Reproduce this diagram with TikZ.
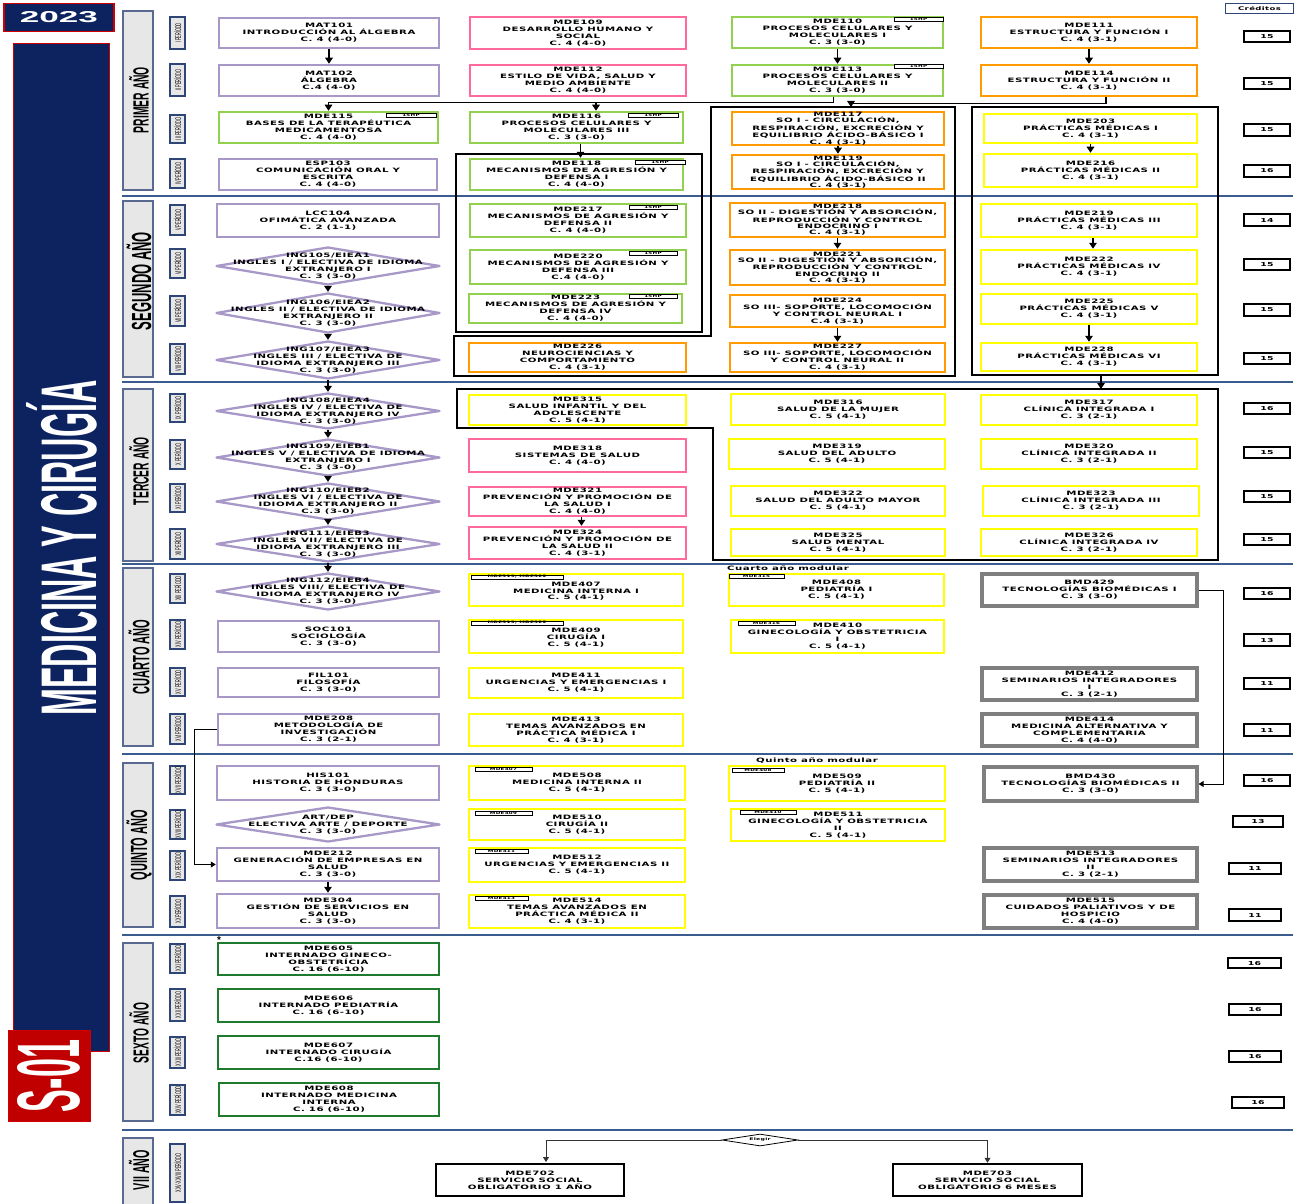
\documentclass[tikz,border=0pt]{standalone}
\usepackage{fontspec}
\usetikzlibrary{shapes.geometric,arrows.meta,calc}
\newfontfamily\bxf{DejaVu Sans}[FakeStretch=1.7,LetterSpace=8]
\newfontfamily\condf{Liberation Sans}[FakeStretch=0.47]
\newfontfamily\plainsans{Liberation Sans}
\definecolor{cPur}{HTML}{A898C8}
\definecolor{cPnk}{HTML}{FF6A9A}
\definecolor{cGrn}{HTML}{92D050}
\definecolor{cOrg}{HTML}{FF9A00}
\definecolor{cYel}{HTML}{FFFF00}
\definecolor{cGry}{HTML}{7F7F7F}
\definecolor{cDgr}{HTML}{1E7B2E}
\definecolor{cNavy}{HTML}{0C2360}
\definecolor{cRed}{HTML}{D00000}
\definecolor{cRedF}{HTML}{C00000}
\definecolor{cSep}{HTML}{3B5C8E}
\definecolor{cLG}{HTML}{E7E7E7}
\definecolor{cPerB}{HTML}{2E4577}
\newcommand{\bt}{\bxf\bfseries\fontsize{6}{6.9}\selectfont}
\newcommand{\btt}{\bxf\bfseries\fontsize{6}{6.3}\selectfont}
\newcommand{\cb}[7]{\node[#1, minimum width={(#4)-(#2)-2}, minimum height={(#5)-(#3)-2}] (#6) at ({((#2)+(#4))/2},{((#3)+(#5))/2}) {#7};}
\newcommand{\dm}[6]{\node[dshape, minimum width={(#3)-(#1)}, minimum height={(#4)-(#2)}] (#5) at ({((#1)+(#3))/2},{((#2)+(#4))/2}) {};
\node[dtxt] (#5t) at (#5) {#6};}
\tikzset{
  basebox/.style={rectangle, inner sep=0pt, align=center, font=\bt, text=black, fill=white},
  pur/.style={basebox, draw=cPur, line width=2.5pt},
  pnk/.style={basebox, draw=cPnk, line width=2.5pt},
  grn/.style={basebox, draw=cGrn, line width=2.5pt},
  org/.style={basebox, draw=cOrg, line width=2.5pt},
  yel/.style={basebox, draw=cYel, line width=2.5pt},
  gry/.style={basebox, draw=cGry, line width=3.2pt},
  dgr/.style={basebox, draw=cDgr, line width=2.5pt},
  blk/.style={basebox, draw=black, line width=2.5pt},
  tightf/.style={font=\btt},
  dshape/.style={diamond, draw=cPur, line width=2.3pt, line join=round, fill=white, inner sep=0pt},
  dtxt/.style={inner sep=0pt, align=center, font=\bt},
  tagbox/.style={rectangle, draw=black, fill=white, line width=0.7pt, inner sep=0pt, font=\bxf\bfseries\fontsize{3.3}{3.5}\selectfont},
  cred/.style={rectangle, draw=black, line width=1.1pt, fill=white, inner sep=0pt, font=\bxf\bfseries\fontsize{5.5}{6}\selectfont},
  perbox/.style={rectangle, draw=cPerB, fill=cLG, line width=1.1pt, inner sep=0pt, font=\condf\fontsize{8.2}{8.2}\selectfont},
  yrbox/.style={rectangle, draw=cPerB!80, fill=cLG, line width=1.5pt, inner sep=0pt},
  yrtxt/.style={rotate=90, inner sep=0pt},
  grp/.style={draw=black, line width=1.3pt},
  arr/.style={line width=1.4pt, -{Triangle[width=7.5pt,length=6pt]}},
  arrthin/.style={line width=0.9pt, -{Triangle[width=6pt,length=5pt]}},
  sepline/.style={draw=cSep, line width=1.5pt},
  plain/.style={inner sep=0pt, font=\bxf\bfseries\fontsize{6}{6}\selectfont}
}
\begin{document}
\begin{tikzpicture}[x=1pt,y=-1pt]
\useasboundingbox (0,0) rectangle (1306,1204);
\clip (0,0) rectangle (1306,1204);
% separators
\foreach \yy in {196,382,564,754,935,1130} \draw[sepline] (122,\yy) -- (1293,\yy);

% left title panel
\node[rectangle, draw=cRed, fill=cNavy, line width=1.2pt, inner sep=0pt, minimum width=110pt, minimum height=28pt, text=white] (y2023) at (59,17.5) {\resizebox{78pt}{11pt}{\plainsans\bfseries 2023}};
\node[rectangle, draw=cRed, fill=cNavy, line width=1.6pt, minimum width=96pt, minimum height=1008pt] (panel) at (61.5,547.5) {};
\node[rotate=90, text=white, inner sep=0pt] (title) at (62,548) {\resizebox{335pt}{70pt}{\condf\bfseries MEDICINA Y CIRUGÍA}};
\node[rectangle, fill=cRedF, draw=cRed, line width=1pt, minimum width=82pt, minimum height=91pt] (s01) at (49,1075.5) {};
\node[rotate=90, text=white, inner sep=0pt] (s01t) at (49,1076) {\resizebox{72pt}{62pt}{\condf\bfseries S-01}};

% year boxes
\cb{yrbox}{122}{10}{154}{191}{yr1}{}
\cb{yrbox}{122}{200}{154}{378}{yr2}{}
\cb{yrbox}{122}{388}{154}{562}{yr3}{}
\cb{yrbox}{122}{567}{154}{747}{yr4}{}
\cb{yrbox}{122}{762}{154}{928}{yr5}{}
\cb{yrbox}{122}{942}{154}{1122}{yr6}{}
\cb{yrbox}{122}{1137}{154}{1210}{yr7}{}
\node[yrtxt] (yr1t) at (139,100) {\resizebox{66pt}{!}{\condf\bfseries PRIMER AÑO}};
\node[yrtxt] (yr2t) at (139,281) {\resizebox{98pt}{!}{\condf\bfseries SEGUNDO AÑO}};
\node[yrtxt] (yr3t) at (139,471) {\resizebox{68pt}{!}{\condf\bfseries TERCER AÑO}};
\node[yrtxt] (yr4t) at (139,657) {\resizebox{75pt}{!}{\condf\bfseries CUARTO AÑO}};
\node[yrtxt] (yr5t) at (139,845) {\resizebox{70pt}{!}{\condf\bfseries QUINTO AÑO}};
\node[yrtxt] (yr6t) at (139,1033) {\resizebox{60pt}{!}{\condf\bfseries SEXTO AÑO}};
\node[yrtxt] (yr7t) at (139,1170) {\resizebox{40pt}{!}{\condf\bfseries VII AÑO}};

% period boxes
\cb{perbox}{169}{16}{186}{50}{p1}{\rotatebox{90}{I PERÍODO}}
\cb{perbox}{169}{63}{186}{97}{p2}{\rotatebox{90}{II PERÍODO}}
\cb{perbox}{169}{114}{186}{144}{p3}{\rotatebox{90}{III PERÍODO}}
\cb{perbox}{169}{158}{186}{189}{p4}{\rotatebox{90}{IV PERÍODO}}
\cb{perbox}{169}{204}{186}{236}{p5}{\rotatebox{90}{V PERÍODO}}
\cb{perbox}{169}{248}{186}{279}{p6}{\rotatebox{90}{VI PERÍODO}}
\cb{perbox}{169}{295}{186}{327}{p7}{\rotatebox{90}{VII PERÍODO}}
\cb{perbox}{169}{343}{186}{375}{p8}{\rotatebox{90}{VIII PERÍODO}}
\cb{perbox}{169}{393}{186}{423}{p9}{\rotatebox{90}{IX PERÍODO}}
\cb{perbox}{169}{439}{186}{470}{p10}{\rotatebox{90}{X PERÍODO}}
\cb{perbox}{169}{483}{186}{513}{p11}{\rotatebox{90}{XI PERÍODO}}
\cb{perbox}{169}{528}{186}{560}{p12}{\rotatebox{90}{XII PERÍODO}}
\cb{perbox}{169}{573}{186}{604}{p13}{\rotatebox{90}{XIII PERÍODO}}
\cb{perbox}{169}{619}{186}{650}{p14}{\rotatebox{90}{XIV PERÍODO}}
\cb{perbox}{169}{667}{186}{697}{p15}{\rotatebox{90}{XV PERÍODO}}
\cb{perbox}{169}{713}{186}{745}{p16}{\rotatebox{90}{XVI PERÍODO}}
\cb{perbox}{169}{765}{186}{795}{p17}{\rotatebox{90}{XVII PERÍODO}}
\cb{perbox}{169}{809}{186}{840}{p18}{\rotatebox{90}{XVIII PERÍODO}}
\cb{perbox}{169}{850}{186}{881}{p19}{\rotatebox{90}{XIX PERÍODO}}
\cb{perbox}{169}{895}{186}{928}{p20}{\rotatebox{90}{XX PERÍODO}}
\cb{perbox}{169}{943}{186}{974}{p21}{\rotatebox{90}{XXI PERÍODO}}
\cb{perbox}{169}{988}{186}{1022}{p22}{\rotatebox{90}{XXII PERÍODO}}
\cb{perbox}{169}{1036}{186}{1069}{p23}{\rotatebox{90}{XXIII PERÍODO}}
\cb{perbox}{169}{1084}{186}{1116}{p24}{\rotatebox{90}{XXIV PERÍODO}}
\cb{perbox}{169}{1143}{186}{1203}{p25}{\rotatebox{90}{XXV-XXVIII PERÍODO}}

% group frames
\draw[grp] (456,154) rectangle (702,332);
\draw[grp] (711,107) -- (955,107) -- (955,376) -- (454,376) -- (454,336) -- (711,336) -- cycle;
\draw[grp] (972,107) rectangle (1218,375);
\draw[grp] (457,389) -- (1218,389) -- (1218,560) -- (713,560) -- (713,428) -- (457,428) -- cycle;

% ===== column 1 =====
\cb{pur}{218}{17}{440}{49}{MAT101}{MAT101\\INTRODUCCIÓN AL ÁLGEBRA\\C. 4 (4-0)}
\cb{pur}{218}{64}{440}{97}{MAT102}{MAT102\\ÁLGEBRA\\C.4 (4-0)}
\cb{grn}{218}{111}{439}{144}{MDE115}{MDE115\\BASES DE LA TERAPÉUTICA\\MEDICAMENTOSA\\C. 4 (4-0)}
\cb{pur}{218}{158}{438}{191}{ESP103}{ESP103\\COMUNICACIÓN ORAL Y\\ESCRITA\\C. 4 (4-0)}
\cb{pur}{216}{203}{440}{238}{LCC104}{LCC104\\OFIMÁTICA AVANZADA\\C. 2 (1-1)}
\dm{216}{247}{440}{285}{ING105}{ING105/EIEA1\\INGLES I / ELECTIVA DE IDIOMA\\EXTRANJERO I\\C. 3 (3-0)}
\dm{216}{293}{440}{333}{ING106}{ING106/EIEA2\\INGLES II / ELECTIVA DE IDIOMA\\EXTRANJERO II\\C. 3 (3-0)}
\dm{216}{341}{440}{379}{ING107}{ING107/EIEA3\\INGLES III / ELECTIVA DE\\IDIOMA EXTRANJERO III\\C. 3 (3-0)}
\dm{216}{393}{440}{429}{ING108}{ING108/EIEA4\\INGLES IV / ELECTIVA DE\\IDIOMA EXTRANJERO IV\\C. 3 (3-0)}
\dm{216}{439}{440}{476}{ING109}{ING109/EIEB1\\INGLES V / ELECTIVA DE IDIOMA\\EXTRANJERO I\\C. 3 (3-0)}
\dm{216}{483}{440}{520}{ING110}{ING110/EIEB2\\INGLES VI / ELECTIVA DE\\IDIOMA EXTRANJERO II\\C.3 (3-0)}
\dm{216}{526}{440}{562}{ING111}{ING111/EIEB3\\INGLES VII/ ELECTIVA DE\\IDIOMA EXTRANJERO III\\C. 3 (3-0)}
\dm{216}{573}{440}{610}{ING112}{ING112/EIEB4\\INGLES VIII/ ELECTIVA DE\\IDIOMA EXTRANJERO IV\\C. 3 (3-0)}
\cb{pur}{217}{620}{440}{653}{SOC101}{SOC101\\SOCIOLOGÍA\\C. 3 (3-0)}
\cb{pur}{217}{667}{440}{698}{FIL101}{FIL101\\FILOSOFÍA\\C. 3 (3-0)}
\cb{pur}{217}{713}{440}{746}{MDE208}{MDE208\\METODOLOGÍA DE\\INVESTIGACIÓN\\C. 3 (2-1)}
\cb{pur}{216}{765}{440}{801}{HIS101}{HIS101\\HISTORIA DE HONDURAS\\C. 3 (3-0)}
\dm{216}{807}{440}{842}{ART}{ART/DEP\\ELECTIVA ARTE / DEPORTE\\C. 3 (3-0)}
\cb{pur}{216}{847}{440}{882}{MDE212}{MDE212\\GENERACIÓN DE EMPRESAS EN\\SALUD\\C. 3 (3-0)}
\cb{pur}{216}{893}{440}{929}{MDE304}{MDE304\\GESTIÓN DE SERVICIOS EN\\SALUD\\C. 3 (3-0)}
\cb{dgr}{217}{942}{440}{976}{MDE605}{MDE605\\INTERNADO GINECO-\\OBSTETRÍCIA\\C. 16 (6-10)}
\cb{dgr}{217}{988}{440}{1023}{MDE606}{MDE606\\INTERNADO PEDIATRÍA\\C. 16 (6-10)}
\cb{dgr}{217}{1035}{440}{1070}{MDE607}{MDE607\\INTERNADO CIRUGÍA\\C.16 (6-10)}
\cb{dgr}{218}{1082}{440}{1117}{MDE608}{MDE608\\INTERNADO MEDICINA\\INTERNA\\C. 16 (6-10)}
\node[inner sep=0pt, font=\plainsans\bfseries\fontsize{10}{10}\selectfont] (ast) at (219,940) {*};

% ===== column 2 =====
\cb{pnk}{469}{16}{687}{50}{MDE109}{MDE109\\DESARROLLO HUMANO Y\\SOCIAL\\C. 4 (4-0)}
\cb{pnk}{469}{64}{687}{97}{MDE112}{MDE112\\ESTILO DE VIDA, SALUD Y\\MEDIO AMBIENTE\\C. 4 (4-0)}
\cb{grn}{469}{111}{684}{144}{MDE116}{MDE116\\PROCESOS CELULARES Y\\MOLECULARES III\\C. 3 (3-0)}
\cb{grn}{469}{158}{684}{191}{MDE118}{MDE118\\MECANISMOS DE AGRESIÓN Y\\DEFENSA I\\C. 4 (4-0)}
\cb{grn}{469}{203}{687}{238}{MDE217}{MDE217\\MECANISMOS DE AGRESIÓN Y\\DEFENSA II\\C. 4 (4-0)}
\cb{grn}{469}{249}{687}{285}{MDE220}{MDE220\\MECANISMOS DE AGRESIÓN Y\\DEFENSA III\\C.4 (4-0)}
\cb{grn}{468}{293}{683}{324}{MDE223}{MDE223\\MECANISMOS DE AGRESIÓN Y\\DEFENSA IV\\C. 4 (4-0)}
\cb{org}{468}{342}{687}{373}{MDE226}{MDE226\\NEUROCIENCIAS Y\\COMPORTAMIENTO\\C. 4 (3-1)}
\cb{yel}{468}{394}{687}{426}{MDE315}{MDE315\\SALUD INFANTIL Y DEL\\ADOLESCENTE\\C. 5 (4-1)}
\cb{pnk}{468}{438}{687}{473}{MDE318}{MDE318\\SISTEMAS DE SALUD\\C. 4 (4-0)}
\cb{pnk}{468}{486}{687}{517}{MDE321}{MDE321\\PREVENCIÓN Y PROMOCIÓN DE\\LA SALUD I\\C. 4 (4-0)}
\cb{pnk}{468}{526}{687}{560}{MDE324}{MDE324\\PREVENCIÓN Y PROMOCIÓN DE\\LA SALUD II\\C. 4 (3-1)}
\cb{yel}{468}{573}{684}{607}{MDE407}{\\MDE407\\MEDICINA INTERNA I\\C. 5 (4-1)}
\cb{yel}{468}{619}{684}{654}{MDE409}{\\MDE409\\CIRUGÍA I\\C. 5 (4-1)}
\cb{yel}{468}{667}{684}{699}{MDE411}{MDE411\\URGENCIAS Y EMERGENCIAS I\\C. 5 (4-1)}
\cb{yel}{468}{713}{684}{747}{MDE413}{MDE413\\TEMAS AVANZADOS EN\\PRÁCTICA MÉDICA I\\C. 4 (3-1)}
\cb{yel}{468}{765}{686}{801}{MDE508}{MDE508\\MEDICINA INTERNA II\\C. 5 (4-1)}
\cb{yel}{468}{808}{686}{841}{MDE510}{MDE510\\CIRUGÍA II\\C. 5 (4-1)}
\cb{yel}{468}{847}{686}{883}{MDE512}{MDE512\\URGENCIAS Y EMERGENCIAS II\\C. 5 (4-1)}
\cb{yel}{468}{894}{686}{929}{MDE514}{MDE514\\TEMAS AVANZADOS EN\\PRÁCTICA MÉDICA II\\C. 4 (3-1)}

% ===== column 3 =====
\cb{grn}{731}{16}{944}{49}{MDE110}{MDE110\\PROCESOS CELULARES Y\\MOLECULARES I\\C. 3 (3-0)}
\cb{grn}{731}{64}{944}{97}{MDE113}{MDE113\\PROCESOS CELULARES Y\\MOLECULARES II\\C. 3 (3-0)}
\cb{org,tightf}{731}{113}{945}{144}{MDE117}{MDE117\\SO I - CIRCULACIÓN,\\RESPIRACIÓN, EXCRECIÓN Y\\EQUILIBRIO ÁCIDO-BÁSICO I\\C. 4 (3-1)}
\cb{org,tightf}{731}{154}{945}{190}{MDE119}{MDE119\\SO I - CIRCULACIÓN,\\RESPIRACIÓN, EXCRECIÓN Y\\EQUILIBRIO ÁCIDO-BÁSICO II\\C. 4 (3-1)}
\cb{org,tightf}{729}{202}{946}{238}{MDE218}{MDE218\\SO II - DIGESTIÓN Y ABSORCIÓN,\\REPRODUCCIÓN Y CONTROL\\ENDOCRINO I\\C. 4 (3-1)}
\cb{org,tightf}{729}{249}{946}{286}{MDE221}{MDE221\\SO II - DIGESTIÓN Y ABSORCIÓN,\\REPRODUCCIÓN Y CONTROL\\ENDOCRINO II\\C. 4 (3-1)}
\cb{org}{729}{294}{946}{328}{MDE224}{MDE224\\SO III- SOPORTE, LOCOMOCIÓN\\Y CONTROL NEURAL I\\C.4 (3-1)}
\cb{org}{729}{342}{946}{373}{MDE227}{MDE227\\SO III- SOPORTE, LOCOMOCIÓN\\Y CONTROL NEURAL II\\C. 4 (3-1)}
\cb{yel}{730}{393}{946}{426}{MDE316}{MDE316\\SALUD DE LA MUJER\\C. 5 (4-1)}
\cb{yel}{728}{438}{946}{470}{MDE319}{MDE319\\SALUD DEL ADULTO\\C. 5 (4-1)}
\cb{yel}{730}{485}{946}{517}{MDE322}{MDE322\\SALUD DEL ADULTO MAYOR\\C. 5 (4-1)}
\cb{yel}{730}{528}{946}{557}{MDE325}{MDE325\\SALUD MENTAL\\C. 5 (4-1)}
\node[plain, anchor=west] (cam) at (727,568) {Cuarto año modular};
\cb{yel}{728}{573}{945}{607}{MDE408}{MDE408\\PEDIATRÍA I\\C. 5 (4-1)}
\cb{yel}{730}{619}{945}{654}{MDE410}{MDE410\\GINECOLOGÍA Y OBSTETRICIA\\I\\C. 5 (4-1)}
\node[plain, anchor=west] (qam) at (756,761) {Quinto año modular};
\cb{yel}{728}{765}{946}{802}{MDE509}{MDE509\\PEDIATRÍA II\\C. 5 (4-1)}
\cb{yel}{730}{808}{946}{842}{MDE511}{MDE511\\GINECOLOGÍA Y OBSTETRICIA\\II\\C. 5 (4-1)}

% ===== column 4 =====
\cb{org}{980}{16}{1198}{49}{MDE111}{MDE111\\ESTRUCTURA Y FUNCIÓN I\\C. 4 (3-1)}
\cb{org}{980}{64}{1198}{97}{MDE114}{MDE114\\ESTRUCTURA Y FUNCIÓN II\\C. 4 (3-1)}
\cb{yel}{983}{113}{1198}{144}{MDE203}{MDE203\\PRÁCTICAS MÉDICAS I\\C. 4 (3-1)}
\cb{yel}{983}{153}{1198}{188}{MDE216}{MDE216\\PRÁCTICAS MÉDICAS II\\C. 4 (3-1)}
\cb{yel}{980}{203}{1198}{238}{MDE219}{MDE219\\PRÁCTICAS MÉDICAS III\\C. 4 (3-1)}
\cb{yel}{980}{249}{1198}{285}{MDE222}{MDE222\\PRÁCTICAS MÉDICAS IV\\C. 4 (3-1)}
\cb{yel}{980}{293}{1198}{325}{MDE225}{MDE225\\PRÁCTICAS MÉDICAS V\\C. 4 (3-1)}
\cb{yel}{980}{342}{1198}{372}{MDE228}{MDE228\\PRÁCTICAS MÉDICAS VI\\C. 4 (3-1)}
\cb{yel}{980}{394}{1198}{426}{MDE317}{MDE317\\CLÍNICA INTEGRADA I\\C. 3 (2-1)}
\cb{yel}{980}{438}{1198}{470}{MDE320}{MDE320\\CLÍNICA INTEGRADA II\\C. 3 (2-1)}
\cb{yel}{982}{485}{1200}{517}{MDE323}{MDE323\\CLÍNICA INTEGRADA III\\C. 3 (2-1)}
\cb{yel}{980}{528}{1198}{557}{MDE326}{MDE326\\CLÍNICA INTEGRADA IV\\C. 3 (2-1)}
\cb{gry}{981}{573}{1198}{607}{BMD429}{BMD429\\TECNOLOGÍAS BIOMÉDICAS I\\C. 3 (3-0)}
\cb{gry}{981}{667}{1198}{701}{MDE412}{MDE412\\SEMINARIOS INTEGRADORES\\I\\C. 3 (2-1)}
\cb{gry}{981}{713}{1198}{747}{MDE414}{MDE414\\MEDICINA ALTERNATIVA Y\\COMPLEMENTARIA\\C. 4 (4-0)}
\cb{gry}{983}{766}{1198}{802}{BMD430}{BMD430\\TECNOLOGÍAS BIOMÉDICAS II\\C. 3 (3-0)}
\cb{gry}{983}{847}{1198}{882}{MDE513}{MDE513\\SEMINARIOS INTEGRADORES\\II\\C. 3 (2-1)}
\cb{gry}{983}{894}{1198}{929}{MDE515}{MDE515\\CUIDADOS PALIATIVOS Y DE\\HOSPICIO\\C. 4 (4-0)}

% ===== VII year =====
\cb{blk}{435}{1163}{625}{1197}{MDE702}{MDE702\\SERVICIO SOCIAL\\OBLIGATORIO 1 AÑO}
\cb{blk}{892}{1163}{1083}{1197}{MDE703}{MDE703\\SERVICIO SOCIAL\\OBLIGATORIO 6 MESES}
\node[diamond, draw=black, line width=0.8pt, fill=white, inner sep=0pt, minimum width=76pt, minimum height=12pt] (eleg) at (760,1140) {};
\node[inner sep=0pt, font=\bxf\bfseries\fontsize{3.6}{4}\selectfont] (elegt) at (eleg) {Elegir};

% ===== tags =====
\cb{tagbox}{385}{112}{437}{118}{t1}{15HP}
\cb{tagbox}{627}{112}{679}{118}{t2}{15HP}
\cb{tagbox}{634}{159}{686}{165}{t3}{15HP}
\cb{tagbox}{628}{204}{678}{210}{t4}{15HP}
\cb{tagbox}{628}{250}{678}{256}{t5}{15HP}
\cb{tagbox}{628}{293}{678}{299}{t6}{15HP}
\cb{tagbox}{893}{16}{944}{22}{t7}{15HP}
\cb{tagbox}{893}{63}{944}{69}{t8}{15HP}
\cb{tagbox}{470}{574}{564}{580}{t9}{MDE319, MDE322}
\cb{tagbox}{470}{620}{564}{626}{t10}{MDE319, MDE322}
\cb{tagbox}{728}{573}{785}{579}{t11}{MDE315}
\cb{tagbox}{737}{620}{796}{626}{t12}{MDE316}
\cb{tagbox}{474}{766}{533}{772}{t13}{MDE407}
\cb{tagbox}{474}{810}{533}{816}{t14}{MDE409}
\cb{tagbox}{474}{848}{529}{854}{t15}{MDE411}
\cb{tagbox}{474}{895}{529}{901}{t16}{MDE413}
\cb{tagbox}{731}{767}{785}{773}{t17}{MDE408}
\cb{tagbox}{739}{809}{797}{815}{t18}{MDE410}

% ===== credits =====
\node[rectangle, draw=cPerB, line width=1.1pt, fill=white, inner sep=0pt, minimum width=68pt, minimum height=10pt, font=\bxf\bfseries\fontsize{5}{5}\selectfont] (cred0) at (1259.5,8.5) {Créditos};
\cb{cred}{1243}{30}{1291}{43}{cr1}{15}
\cb{cred}{1243}{77}{1291}{90}{cr2}{15}
\cb{cred}{1243}{123}{1291}{137}{cr3}{15}
\cb{cred}{1243}{164}{1291}{178}{cr4}{16}
\cb{cred}{1243}{213}{1291}{227}{cr5}{14}
\cb{cred}{1243}{258}{1291}{271}{cr6}{15}
\cb{cred}{1243}{303}{1291}{317}{cr7}{15}
\cb{cred}{1243}{352}{1291}{365}{cr8}{15}
\cb{cred}{1243}{402}{1291}{415}{cr9}{16}
\cb{cred}{1243}{446}{1291}{459}{cr10}{15}
\cb{cred}{1243}{490}{1291}{503}{cr11}{15}
\cb{cred}{1243}{533}{1291}{546}{cr12}{15}
\cb{cred}{1243}{587}{1291}{600}{cr13}{16}
\cb{cred}{1243}{633}{1291}{647}{cr14}{13}
\cb{cred}{1243}{677}{1291}{690}{cr15}{11}
\cb{cred}{1243}{723}{1291}{737}{cr16}{11}
\cb{cred}{1243}{774}{1291}{787}{cr17}{16}
\cb{cred}{1232}{815}{1284}{828}{cr18}{13}
\cb{cred}{1228}{862}{1282}{875}{cr19}{11}
\cb{cred}{1228}{908}{1282}{922}{cr20}{11}
\cb{cred}{1227}{957}{1282}{969}{cr21}{16}
\cb{cred}{1228}{1003}{1282}{1016}{cr22}{16}
\cb{cred}{1228}{1050}{1282}{1063}{cr23}{16}
\cb{cred}{1231}{1096}{1285}{1109}{cr24}{16}

% ===== connectors =====
\coordinate (r2in) at (851,107);
\coordinate (r4out) at (1101,375);
\coordinate (r5in) at (1101,389);
\coordinate (x194) at (194,0);
\coordinate (x1223) at (1223,0);
\coordinate (e702) at (546,1162);
\draw[arr] (MAT101) -- (MAT102);
\draw[arr] (MDE110) -- (MDE113);
\draw[arr] (MDE111) -- (MDE114);
\draw[arr] ([xshift=-4pt]MDE113.south) -- ++(0,5) -| (MDE115.north);
\draw[arr] ([xshift=-4pt]MDE113.south) -- ++(0,5) -| ([xshift=19.5pt]MDE116.north);
\draw[arr] ([xshift=17pt]MDE114.south) -- ++(0,6) -| (r2in);
\draw[arr] ([xshift=4pt]MDE116.south) -- ([xshift=4pt]MDE118.north);
\draw[arr] (MDE117) -- (MDE119);
\draw[arr] (MDE203) -- (MDE216);
\draw[arr] (MDE218) -- (MDE221);
\draw[arr] (MDE224) -- (MDE227);
\draw[arr] ([xshift=4pt]MDE219.south) -- ([xshift=4pt]MDE222.north);
\draw[arr] (MDE225) -- (MDE228);
\draw[arr] (r4out) -- (r5in);
\draw[arr] ([xshift=4pt]MDE321.south) -- ([xshift=4pt]MDE324.north);
\draw[arr] (ING105) -- (ING106);
\draw[arr] (ING106) -- (ING107);
\draw[arr] (ING107) -- (ING108);
\draw[arr] (ING108) -- (ING109);
\draw[arr] (ING109) -- (ING110);
\draw[arr] (ING110) -- (ING111);
\draw[arr] (ING111) -- (ING112);
\draw[arr] (MDE212) -- (MDE304);
\draw[arrthin] (MDE208.west) -- (MDE208.west -| x194) |- (MDE212.west);
\draw[arrthin] (BMD429.east) -- (BMD429.east -| x1223) |- (BMD430.east);
\draw[arrthin, draw=black!80] (eleg.west) -| (e702);
\draw[arrthin, draw=black!80] (eleg.east) -| (MDE703.north);
\end{tikzpicture}
\end{document}
